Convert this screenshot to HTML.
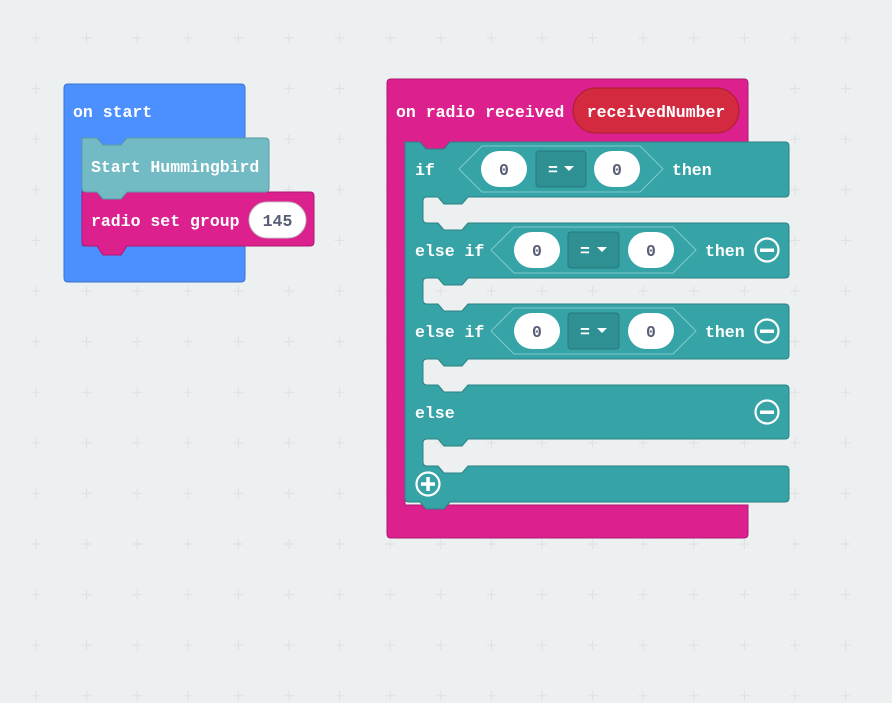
<!DOCTYPE html>
<html><head><meta charset="utf-8"><style>
html,body{margin:0;padding:0;background:#ecf0f1;}
svg{display:block;}
text{font-family:"Liberation Mono","DejaVu Sans Mono",monospace;font-weight:bold;font-size:16.5px;fill:#fff;}
.d{fill:#575e75;text-anchor:middle;}
</style></head><body>
<svg width="892" height="703" viewBox="0 0 892 703" xmlns="http://www.w3.org/2000/svg">
<defs>
<pattern id="g" x="10.7" y="12.7" width="50.6" height="50.6" patternUnits="userSpaceOnUse">
<path d="M20.3 25.3H30.3M25.3 20.3V30.3" stroke="#dde1e3" stroke-width="1"/>
</pattern>
</defs>
<rect width="892" height="703" fill="#ecf0f1"/>
<rect width="892" height="703" fill="url(#g)"/>

<!-- on start -->
<path d="M64,88 q0,-4 4,-4 H241 q4,0 4,4 V138 H127 L121,145 H103 L97,138 H82 V246 H245 V278 q0,4 -4,4 H68 q-4,0 -4,-4 Z" fill="#4c8fff" stroke="#3a73cc" stroke-width="1"/>
<text x="73" y="117">on start</text>
<!-- radio set group -->
<path d="M82,192 H97 L103,199 H121 L127,192 H310 q4,0 4,4 V242 q0,4 -4,4 H127 L121,255 H103 L97,246 H86 q-4,0 -4,-4 Z" fill="#dc208e" stroke="#b01872" stroke-width="1"/>
<rect x="249" y="202" width="57" height="36" rx="18" fill="#fff" stroke="#c4c4c4"/>
<text x="277.5" y="226" class="d">145</text>
<text x="91" y="226">radio set group</text>
<!-- Start Hummingbird -->
<path d="M82,138 H97 L103,145 H121 L127,138 H265 q4,0 4,4 V188 q0,4 -4,4 H127 L121,199 H103 L97,192 H86 q-4,0 -4,-4 Z" fill="#72bac4" stroke="#5b9aa3" stroke-width="1"/>
<text x="91" y="172">Start Hummingbird</text>

<!-- on radio received -->
<path d="M387,83 q0,-4 4,-4 H744 q4,0 4,4 V142 H450 L444,149 H426 L420,142 H405 V505 H748 V534 q0,4 -4,4 H391 q-4,0 -4,-4 Z" fill="#dc208e" stroke="#b01872" stroke-width="1"/>
<text x="396" y="117">on radio received</text>
<rect x="573" y="88" width="166" height="45" rx="22.5" fill="#d42a3f" stroke="#a91f31"/>
<text x="656" y="117" text-anchor="middle">receivedNumber</text>

<!-- if block -->
<path d="M405,142 H420 L426,149 H444 L450,142 H785 q4,0 4,4 V193 q0,4 -4,4 H468 L462,204 H444 L438,197 H427 q-4,0 -4,4 V219 q0,4 4,4 H438 L444,230 H462 L468,223 H785 q4,0 4,4 V274 q0,4 -4,4 H468 L462,285 H444 L438,278 H427 q-4,0 -4,4 V300 q0,4 4,4 H438 L444,311 H462 L468,304 H785 q4,0 4,4 V355 q0,4 -4,4 H468 L462,366 H444 L438,359 H427 q-4,0 -4,4 V381 q0,4 4,4 H438 L444,392 H462 L468,385 H785 q4,0 4,4 V435 q0,4 -4,4 H468 L462,446 H444 L438,439 H427 q-4,0 -4,4 V462 q0,4 4,4 H438 L444,473 H462 L468,466 H785 q4,0 4,4 V498 q0,4 -4,4 H450 L444,509 H426 L420,502 H409 q-4,0 -4,-4 Z" fill="#36a3a6" stroke="#2b8284" stroke-width="1"/>

<!-- row 1 -->
<text x="415" y="175">if</text>
<polygon points="459,169 482,146 640,146 663,169 640,192 482,192" fill="#36a3a6" stroke="#7fcacc" stroke-width="1"/>
<rect x="481" y="151" width="46" height="36" rx="18" fill="#fff"/>
<text x="504" y="175" class="d">0</text>
<rect x="536" y="151" width="50" height="36" rx="3" fill="#2f9093" stroke="#27797b"/>
<text x="553" y="175" text-anchor="middle">=</text>
<path d="M564,166 h10 l-5,5 z" fill="#fff"/>
<rect x="594" y="151" width="46" height="36" rx="18" fill="#fff"/>
<text x="617" y="175" class="d">0</text>
<text x="672" y="175">then</text>

<!-- row 2 -->
<g transform="translate(0,81)">
<text x="415" y="175">else if</text>
<polygon points="491,169 514,146 673,146 696,169 673,192 514,192" fill="#36a3a6" stroke="#7fcacc" stroke-width="1"/>
<rect x="514" y="151" width="46" height="36" rx="18" fill="#fff"/>
<text x="537" y="175" class="d">0</text>
<rect x="568" y="151" width="51" height="36" rx="3" fill="#2f9093" stroke="#27797b"/>
<text x="585" y="175" text-anchor="middle">=</text>
<path d="M597,166 h10 l-5,5 z" fill="#fff"/>
<rect x="628" y="151" width="46" height="36" rx="18" fill="#fff"/>
<text x="651" y="175" class="d">0</text>
<text x="705" y="175">then</text>
<circle cx="767" cy="169" r="11.5" fill="none" stroke="#fff" stroke-width="2.2"/>
<rect x="760" y="167.5" width="14" height="3.5" fill="#fff"/>
</g>
<g transform="translate(0,162)">
<text x="415" y="175">else if</text>
<polygon points="491,169 514,146 673,146 696,169 673,192 514,192" fill="#36a3a6" stroke="#7fcacc" stroke-width="1"/>
<rect x="514" y="151" width="46" height="36" rx="18" fill="#fff"/>
<text x="537" y="175" class="d">0</text>
<rect x="568" y="151" width="51" height="36" rx="3" fill="#2f9093" stroke="#27797b"/>
<text x="585" y="175" text-anchor="middle">=</text>
<path d="M597,166 h10 l-5,5 z" fill="#fff"/>
<rect x="628" y="151" width="46" height="36" rx="18" fill="#fff"/>
<text x="651" y="175" class="d">0</text>
<text x="705" y="175">then</text>
<circle cx="767" cy="169" r="11.5" fill="none" stroke="#fff" stroke-width="2.2"/>
<rect x="760" y="167.5" width="14" height="3.5" fill="#fff"/>
</g>
<!-- else -->
<text x="415" y="418">else</text>
<circle cx="767" cy="412" r="11.5" fill="none" stroke="#fff" stroke-width="2.2"/>
<rect x="760" y="410.5" width="14" height="3.5" fill="#fff"/>
<!-- plus -->
<circle cx="428" cy="484" r="11.5" fill="none" stroke="#fff" stroke-width="2.2"/>
<rect x="421" y="482.3" width="14" height="3.5" fill="#fff"/>
<rect x="426.3" y="477" width="3.5" height="14" fill="#fff"/>
</svg>
</body></html>
